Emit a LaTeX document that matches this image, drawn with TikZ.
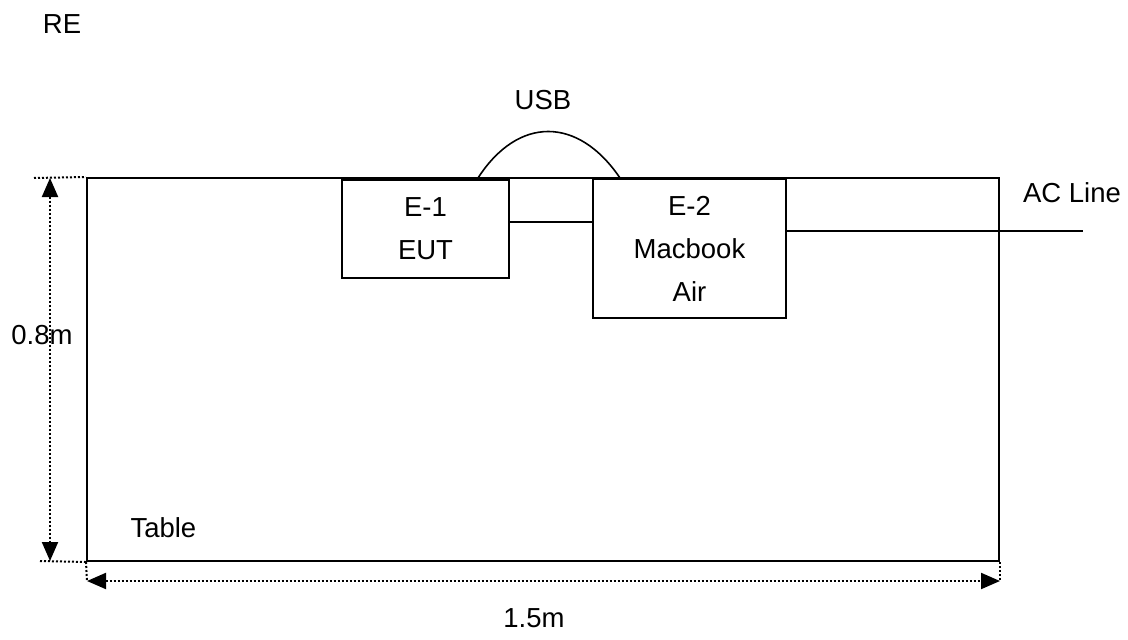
\documentclass[tikz,border=0pt]{standalone}
\usepackage{fontspec}
\setmainfont{Liberation Sans}
\usetikzlibrary{positioning, arrows.meta, calc}

\begin{document}
\begin{tikzpicture}[
    x=1pt, y=-1pt,
    every node/.style={font=\fontsize{27.5}{43}\selectfont},
    tablebox/.style={
        draw,
        line width=2pt,
        inner sep=0pt,
        minimum width=912pt,
        minimum height=383pt,
    },
    device/.style={
        draw,
        line width=1.7pt,
        inner sep=0pt,
        align=center,
    },
    wire/.style={
        line width=1.6pt,
    },
    dimline/.style={
        line width=2pt,
        dash pattern=on 2pt off 2pt,
        {Triangle[length=19pt,width=16pt]}-{Triangle[length=19pt,width=16pt]},
    },
    extline/.style={
        line width=2pt,
        dash pattern=on 2pt off 2pt,
    },
]

\useasboundingbox (0,0) rectangle (1128,640);

% table and devices
\node[tablebox] (table) at (543,369.5) {};

\node[device, minimum width=167pt, minimum height=98pt] (eut) at (425.5,229) {E-1\\EUT};
\node[device, minimum width=193pt, minimum height=139pt] (mac) at (689.5,248.5) {E-2\\Macbook\\Air};

% cables
\coordinate (usbA) at (478,178);
\coordinate (usbB) at (620,178);
\coordinate (acEnd) at (1083,231);

\draw[wire] (usbA) .. controls (518,116) and (578,116) .. (usbB);
\draw[wire] ([yshift=7pt]eut.east) -- ([yshift=7pt]eut.east -| mac.west);
\draw[wire] (mac.east |- acEnd) -- (acEnd);

% dimensions
\coordinate (vTop) at (50,178);
\coordinate (vBot) at (50,561);
\coordinate (hLeft) at (87,581);
\coordinate (hRight) at (1000,581);

\draw[extline] (34,178) -- (table.north west);
\draw[extline] (40,561) -- (table.south west);
\draw[extline] (table.south west) -- (hLeft);
\draw[extline] (table.south east) -- (hRight);
\draw[dimline] (vTop) -- (vBot);
\draw[dimline] (hLeft) -- (hRight);

% labels
\node (re) at (62,24) {RE};
\node (usb) at (543,100) {USB};
\node (acline) at (1072,193) {AC Line};
\node (height) at (42,335) {0.8m};
\node[anchor=west] (tablelabel) at (127,528) {Table};
\node (width) at (534,618) {1.5m};

\end{tikzpicture}
\end{document}
